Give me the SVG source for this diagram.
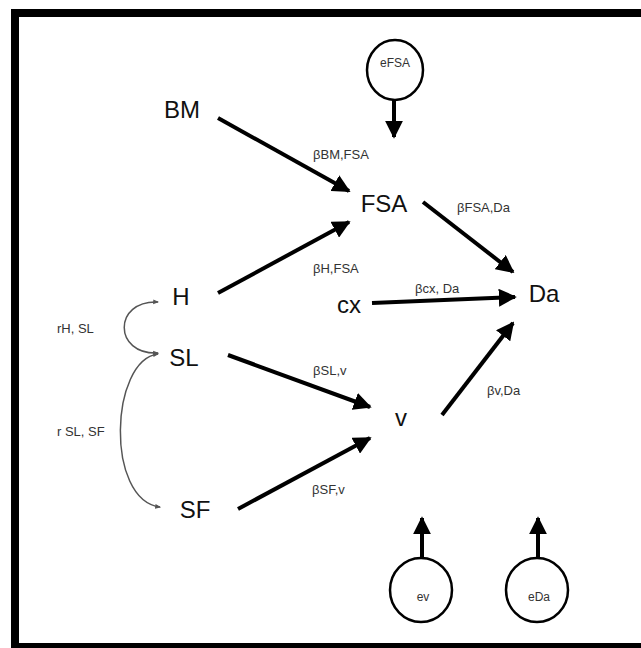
<svg xmlns="http://www.w3.org/2000/svg" width="641" height="648" viewBox="0 0 641 648">
<style>
.node{font-family:"Liberation Sans",Arial,sans-serif;font-size:24px;fill:#111;text-anchor:middle}
.lab{font-family:"Liberation Sans",Arial,sans-serif;font-size:13px;fill:#333}
.err{font-family:"Liberation Sans",Arial,sans-serif;font-size:12px;fill:#333;text-anchor:middle}
.thick{stroke:#000;stroke-width:4;fill:none;marker-end:url(#ah)}
.thin{stroke:#555;stroke-width:1.5;fill:none;marker-start:url(#sh);marker-end:url(#sh)}
.circ{fill:#fff;stroke:#000;stroke-width:2.5}
</style>
<defs>
<marker id="ah" viewBox="0 0 10 10" refX="9" refY="5" markerWidth="4.5" markerHeight="4.5" orient="auto" markerUnits="strokeWidth">
<path d="M0,0 L10,5 L0,10 z" fill="#000"/>
</marker>
<marker id="sh" viewBox="0 0 10 10" refX="8" refY="5" markerWidth="4" markerHeight="4" orient="auto-start-reverse" markerUnits="strokeWidth">
<path d="M0,1 L10,5 L0,9 z" fill="#555"/>
</marker>
</defs>
<rect x="0" y="0" width="641" height="648" fill="#fff"/>
<rect x="15" y="13" width="640" height="634" fill="none" stroke="#000" stroke-width="8"/>

<g id="connectors">
<line class="thick" x1="218" y1="118" x2="349" y2="191"/>
<line class="thick" x1="218" y1="293" x2="349" y2="222"/>
<line class="thick" x1="423" y1="202" x2="513" y2="272"/>
<line class="thick" x1="372" y1="303" x2="515" y2="297"/>
<line class="thick" x1="228" y1="355" x2="370" y2="407"/>
<line class="thick" x1="442" y1="415" x2="513" y2="323"/>
<line class="thick" x1="238" y1="509" x2="370" y2="438"/>
<line class="thick" x1="394" y1="100" x2="394" y2="137"/>
<line class="thick" x1="422" y1="558" x2="422" y2="518"/>
<line class="thick" x1="538" y1="558" x2="538" y2="518"/>
<path class="thin" d="M158,302 C113,300 113,355 158,353"/>
<path class="thin" d="M158,354 C110,360 105,500 160,507"/>
<text class="lab" x="313" y="159">βBM,FSA</text>
<text class="lab" x="457" y="212">βFSA,Da</text>
<text class="lab" x="313" y="273">βH,FSA</text>
<text class="lab" x="415" y="293">βcx, Da</text>
<text class="lab" x="313" y="375">βSL,v</text>
<text class="lab" x="487" y="395">βv,Da</text>
<text class="lab" x="312" y="494">βSF,v</text>
<text class="lab" x="57" y="333">rH, SL</text>
<text class="lab" x="57" y="436">r SL, SF</text>
</g>

<g id="BM"><text class="node" x="182" y="118">BM</text></g>
<g id="FSA"><text class="node" x="384" y="212">FSA</text></g>
<g id="H"><text class="node" x="181" y="305">H</text></g>
<g id="SL"><text class="node" x="184" y="366">SL</text></g>
<g id="SF"><text class="node" x="195" y="518">SF</text></g>
<g id="cx"><text class="node" x="349" y="313">cx</text></g>
<g id="Da"><text class="node" x="544" y="302">Da</text></g>
<g id="v"><text class="node" x="401" y="426">v</text></g>
<g id="eFSA"><ellipse class="circ" cx="395" cy="70" rx="28" ry="30"/><text class="err" x="395" y="67">eFSA</text></g>
<g id="ev"><ellipse class="circ" cx="421" cy="590" rx="31" ry="32"/><text class="err" x="423" y="601">ev</text></g>
<g id="eDa"><ellipse class="circ" cx="537" cy="590" rx="31" ry="32"/><text class="err" x="539" y="601">eDa</text></g>
</svg>
